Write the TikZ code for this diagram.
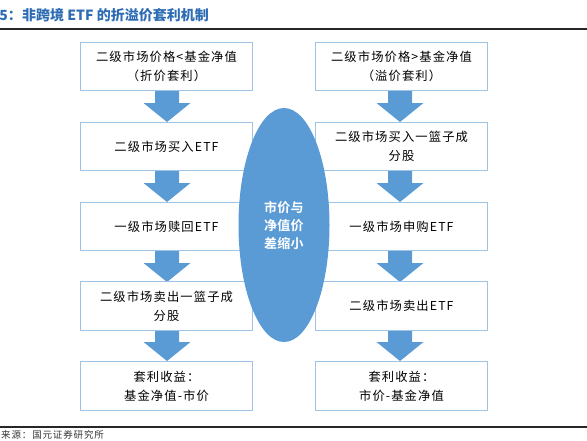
\documentclass[tikz,border=0pt]{standalone}
\usepackage{fontspec}
\setmainfont{Noto Sans CJK SC}
\newfontfamily\cjkbox[LetterSpace=9]{Noto Sans CJK SC}
\newfontfamily\cjkbold[LetterSpace=2]{Noto Sans CJK SC Bold}
\usetikzlibrary{shapes.geometric}
\definecolor{boxline}{HTML}{9DC3E6}
\definecolor{arrowblue}{HTML}{5B9BD5}
\definecolor{titleblue}{HTML}{2E6DB4}
\tikzset{
  flowbox/.style={draw=boxline, line width=0.9pt, fill=white, minimum width=172pt, minimum height=48.5pt,
    inner sep=0pt, align=center, font=\cjkbox\fontsize{12.3}{19}\selectfont, text=black},
  bigarrow/.style={fill=arrowblue, draw=none},
  oval/.style={ellipse, fill=arrowblue, draw=none, minimum width=91pt, minimum height=234pt,
    inner sep=0pt, align=center, text=white, font=\cjkbold\fontsize{13}{18}\selectfont},
  ruleline/.style={line width=1.6pt, draw=black!85}
}
\newcommand{\blockarrow}[2]{% center x, top y
  \fill[bigarrow] (#1-12,#2) -- (#1+12,#2) -- (#1+12,#2+12) -- (#1+23.5,#2+12) -- (#1,#2+31)
    -- (#1-23.5,#2+12) -- (#1-12,#2+12) -- cycle;}
\begin{document}
\begin{tikzpicture}[x=1pt,y=-1pt]
\useasboundingbox (0,0) rectangle (587,440);
% title
\node[anchor=base east, inner sep=0pt, text=titleblue, font=\bfseries\fontsize{14}{16}\selectfont] (tpre) at (22,20) {5：};
\node[anchor=base west, inner sep=0pt, text=titleblue, font=\bfseries\fontsize{14}{16}\selectfont] (title) at (22,20) {非跨境 ETF 的折溢价套利机制};
\coordinate (tl) at (0,29);
\coordinate (tr) at (587,29);
\draw[ruleline] (tl) -- (tr);
\coordinate (bl) at (0,427);
\coordinate (br) at (587,427);
\draw[ruleline] (bl) -- (br);
\node[anchor=base west, inner sep=0pt, text=black!80, font=\cjkbox\fontsize{9.5}{11}\selectfont] (src) at (1,438) {来源：国元证券研究所};
% arrows (drawn first)
\foreach \y in {91,171,251,330} { \blockarrow{167}{\y} }
\foreach \y in {91,171,251,330} { \blockarrow{400}{\y} }
% left column
\node[flowbox] (l1) at (166.5,66.5) {二级市场价格<基金净值\\（折价套利）};
\node[flowbox] (l2) at (166.5,146.5) {二级市场买入ETF};
\node[flowbox] (l3) at (166.5,226.5) {一级市场赎回ETF};
\node[flowbox] (l4) at (166.5,306) {二级市场卖出一篮子成\\分股};
\node[flowbox] (l5) at (166.5,386) {套利收益：\\基金净值-市价};
% right column
\node[flowbox] (r1) at (401.5,66.5) {二级市场价格>基金净值\\（溢价套利）};
\node[flowbox] (r2) at (401.5,146.5) {二级市场买入一篮子成\\分股};
\node[flowbox] (r3) at (401.5,226.5) {一级市场申购ETF};
\node[flowbox] (r4) at (401.5,306) {二级市场卖出ETF};
\node[flowbox] (r5) at (401.5,386) {套利收益：\\市价-基金净值};
% central ellipse
\node[oval] (mid) at (284,225) {市价与\\净值价\\差缩小};
\end{tikzpicture}
\end{document}
